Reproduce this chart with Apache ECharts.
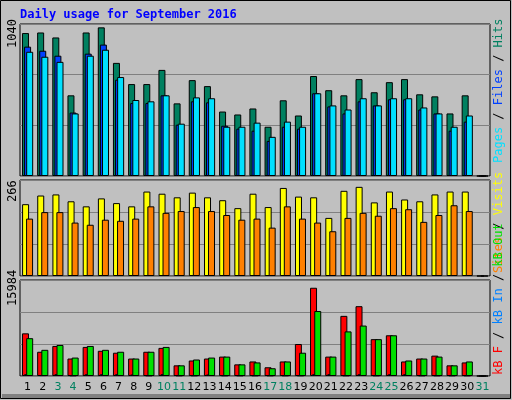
<!DOCTYPE html>
<html>
<head>
<meta charset="utf-8">
<script src="https://cdn.jsdelivr.net/npm/echarts@6/dist/echarts.min.js"></script>
<style>html,body{margin:0;padding:0;background:#c0c0c0}#main{width:512px;height:400px}</style>
</head>
<body>
<div id="main"></div>
<script>
var days = [];
for (var d = 1; d <= 31; d++) days.push(String(d));
var weekends = ['3', '4', '10', '11', '17', '18', '24', '25', '31'];

var hits  = [978, 982, 948, 552, 982, 1017, 774, 629, 629, 726, 497, 656, 615, 441, 421, 462, 337, 518, 414, 684, 587, 552, 663, 573, 642, 663, 559, 545, 428, 552, 0];
var files = [885, 857, 823, 434, 837, 899, 659, 499, 499, 552, 351, 511, 504, 344, 324, 310, 240, 337, 324, 566, 476, 428, 511, 483, 525, 525, 455, 428, 310, 372, 0];
var pages = [850, 816, 781, 428, 823, 864, 677, 520, 511, 552, 358, 538, 532, 337, 337, 365, 268, 372, 337, 566, 483, 455, 532, 483, 532, 532, 469, 428, 337, 414, 0];

var visits = [199, 223, 226, 207, 193, 215, 202, 193, 234, 228, 218, 231, 218, 210, 188, 228, 191, 244, 220, 218, 161, 236, 247, 204, 234, 212, 207, 226, 234, 234, 0];
var sites  = [159, 177, 177, 148, 142, 156, 153, 159, 193, 175, 180, 191, 180, 169, 156, 159, 134, 193, 159, 148, 124, 161, 175, 167, 188, 185, 150, 169, 196, 180, 0];

var kbF   = [7104, 4037, 5005, 2906, 4844, 4198, 3875, 2906, 4037, 4682, 1776, 2583, 2906, 3229, 1938, 2422, 1453, 2422, 5328, 14693, 3229, 10011, 11625, 6135, 6781, 2422, 2906, 3391, 1776, 2260, 0];
var kbIn  = [300, 150, 300, 100, 300, 300, 300, 250, 100, 300, 100, 100, 250, 100, 100, 100, 100, 100, 100, 300, 300, 100, 300, 100, 300, 300, 100, 100, 100, 100, 0];
var kbOut = [6297, 4359, 5167, 3068, 5005, 4359, 4037, 2906, 4037, 4844, 1776, 2745, 3068, 3229, 1938, 2260, 1292, 2422, 3875, 10818, 3229, 7427, 8396, 6135, 6781, 2583, 2906, 3229, 1776, 2422, 0];

var maxTop = 1040, maxMid = 266, maxBot = 15984;

var chart = echarts.init(document.getElementById('main'));
var grids = [
    {left: 20, right: 22, top: 24, height: 152},
    {left: 20, right: 22, top: 180, height: 96},
    {left: 20, right: 22, top: 280, height: 96}
];
grids.forEach(function (g) {
    g.show = true;
    g.backgroundColor = '#c0c0c0';
    g.borderColor = '#000';
    g.borderWidth = 1;
});

function xAx(i, showLabel) {
    return {
        type: 'category', gridIndex: i, data: days,
        axisLine: {show: false}, axisTick: {show: false},
        axisLabel: {
            show: showLabel, interval: 0, margin: 6,
            formatter: function (v) {
                return weekends.indexOf(v) >= 0 ? '{w|' + v + '}' : '{n|' + v + '}';
            },
            rich: {
                n: {color: '#000', fontFamily: 'DejaVu Sans', fontSize: 11},
                w: {color: '#008060', fontFamily: 'DejaVu Sans', fontSize: 11}
            }
        }
    };
}
function yAx(i, max) {
    return {
        type: 'value', gridIndex: i, min: 0, max: max, interval: max / 3,
        axisLabel: {show: false}, axisLine: {show: false}, axisTick: {show: false},
        splitLine: {lineStyle: {color: '#808080', width: 1}}
    };
}
function bar(name, data, color, idx, z) {
    return {
        name: name, type: 'bar', data: data, xAxisIndex: idx, yAxisIndex: idx,
        barWidth: 7, barGap: idx === 1 ? '-43%' : '-70%', z: z,
        itemStyle: {color: color, borderColor: '#000', borderWidth: 1},
        animation: false
    };
}
function vtext(x, y, rich, text) {
    return {
        type: 'text', x: x, y: y, rotation: Math.PI / 2,
        style: {text: text, rich: rich, font: '12px "DejaVu Sans Mono"', align: 'left', verticalAlign: 'middle'}
    };
}

chart.setOption({
    backgroundColor: '#c0c0c0',
    animation: false,
    grid: grids,
    xAxis: [xAx(0, false), xAx(1, false), xAx(2, true)],
    yAxis: [yAx(0, maxTop), yAx(1, maxMid), yAx(2, maxBot)],
    series: [
        bar('Hits', hits, '#008060', 0, 2),
        bar('Files', files, '#0040ff', 0, 3),
        bar('Pages', pages, '#00e0ff', 0, 4),
        bar('Visits', visits, '#ffff00', 1, 2),
        bar('Sites', sites, '#ff8000', 1, 3),
        bar('kB F', kbF, '#ff0000', 2, 2),
        bar('kB In', kbIn, '#0080ff', 2, 3),
        bar('kB Out', kbOut, '#00e000', 2, 4)
    ],
    graphic: [
        {type: 'rect', shape: {x: 0.5, y: 0.5, width: 510, height: 398}, style: {fill: 'none', stroke: '#000', lineWidth: 1}, silent: true},
        {type: 'rect', shape: {x: 2, y: 394, width: 508, height: 4}, style: {fill: '#808080'}, silent: true},
        {type: 'text', x: 20, y: 9, style: {text: 'Daily usage for September 2016', font: 'bold 12px "DejaVu Sans Mono"', fill: '#0000ff'}},
        vtext(13, 48, null, '1040'),
        vtext(13, 202, null, '266'),
        vtext(13, 306, null, '15984'),
        vtext(499, 163, {p: {fill: '#00e0ff'}, f: {fill: '#0040ff'}, h: {fill: '#008060'}, s: {fill: '#000'}},
            '{p|Pages}{s| / }{f|Files}{s| / }{h|Hits}'),
        vtext(499, 273, {v: {fill: '#ffff00'}, t: {fill: '#ff8000'}, s: {fill: '#000'}},
            '{t|Sites}{s| / }{v|Visits}'),
        vtext(499, 375, {a: {fill: '#ff0000'}, b: {fill: '#0080ff'}, c: {fill: '#00e000'}, s: {fill: '#000'}},
            '{a|kB F}{s| / }{b|kB In}{s| / }{c|kB Out}')
    ]
});
</script>
</body>
</html>
